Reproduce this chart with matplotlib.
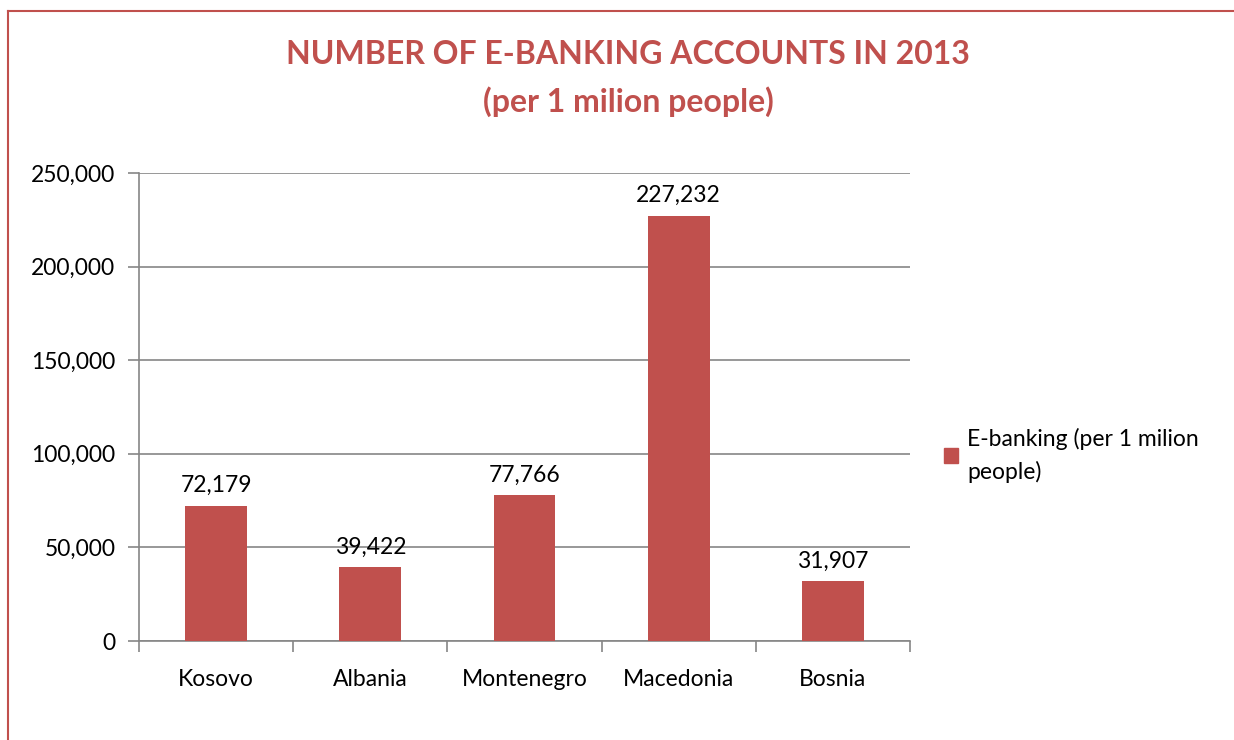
import matplotlib.pyplot as plt
from matplotlib.lines import Line2D
from matplotlib.patches import Patch
from matplotlib.ticker import FuncFormatter

countries = ["Kosovo", "Albania", "Montenegro", "Macedonia", "Bosnia"]
accounts = [72179, 39422, 77766, 227232, 31907]
yticks = [0, 50000, 100000, 150000, 200000, 250000]

red = "#C0504D"
grid_gray = "#868686"
plt.rcParams["font.family"] = ["Lato", "DejaVu Sans"]

fig = plt.figure(figsize=(12.34, 7.4), dpi=100)
ax = fig.add_axes([139 / 1234, 1 - 641 / 740, 771 / 1234, 468 / 740])

x = list(range(len(countries)))
bars = ax.bar(x, accounts, width=0.4, color=red, zorder=3)
for b, v in zip(bars, accounts):
    ax.annotate(f"{v:,}", (b.get_x() + b.get_width() / 2, v),
                xytext=(0, 7), textcoords="offset points",
                ha="center", va="bottom", fontsize=16.5)

ax.set_xlim(-0.5, len(countries) - 0.5)
ax.set_ylim(0, 250000)
ax.set_yticks(yticks)
ax.yaxis.set_major_formatter(FuncFormatter(lambda v, p: f"{int(v):,}"))
ax.grid(axis="y", color=grid_gray, linewidth=1.2, zorder=0)

# category labels between boundary ticks
ax.set_xticks([i - 0.5 for i in range(len(countries) + 1)])
ax.set_xticklabels([])
ax.set_xticks(x, minor=True)
ax.set_xticklabels(countries, minor=True, fontsize=16.5)
ax.tick_params(axis="x", which="minor", length=0, pad=20)
ax.tick_params(axis="x", which="major", length=8, color=grid_gray, width=1.2)
ax.tick_params(axis="y", length=8, color=grid_gray, width=1.2, labelsize=16.5, pad=9)

for s in ["top", "right"]:
    ax.spines[s].set_visible(False)
for s in ["left", "bottom"]:
    ax.spines[s].set_color(grid_gray)
    ax.spines[s].set_linewidth(1.2)

fig.text(628 / 1234, 1 - 55 / 740, "NUMBER OF E-BANKING ACCOUNTS IN 2013",
         ha="center", va="center", fontsize=23, fontweight="bold", color=red)
fig.text(628 / 1234, 1 - 102 / 740, "(per 1 milion people)",
         ha="center", va="center", fontsize=23, fontweight="bold", color=red)

fig.legend(handles=[Patch(color=red, label="E-banking (per 1 milion\npeople)")],
           loc="center left", bbox_to_anchor=(935 / 1234, 1 - 455 / 740),
           frameon=False, fontsize=16.5, handlelength=0.6, handleheight=0.6,
           handletextpad=0.4, borderaxespad=0)
for t in fig.legends[0].get_texts():
    t.set_linespacing(1.6)

# chart area border
fig.add_artist(Line2D([8 / 1234, 8 / 1234], [0, 1 - 11 / 740], color=red, linewidth=1.5))
fig.add_artist(Line2D([8 / 1234, 1], [1 - 11 / 740, 1 - 11 / 740], color=red, linewidth=1.5))

fig.savefig("out.png", dpi=100)
